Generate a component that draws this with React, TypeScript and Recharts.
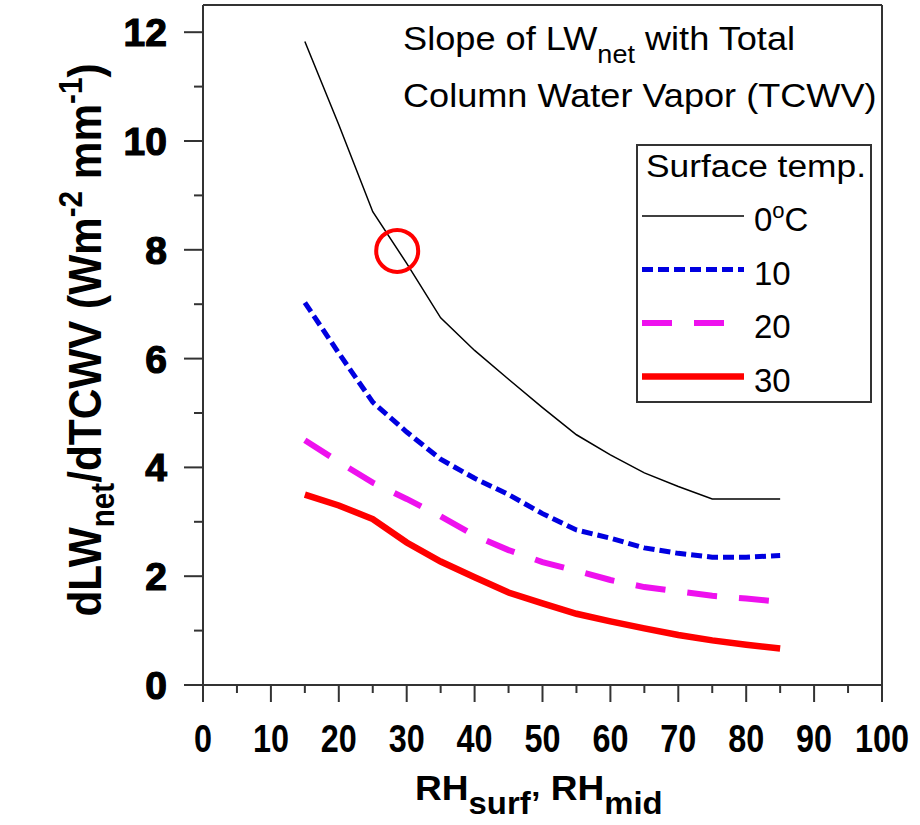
import React from 'react';
import { LineChart, Line, XAxis, YAxis, ReferenceLine, ReferenceDot, Legend } from 'recharts';

// relative humidity (x) and slope values per surface temperature
const RH = [15, 20, 25, 30, 35, 40, 45, 50, 55, 60, 65, 70, 75, 80, 85];
const SLOPE_0C = [11.83, 10.3, 8.7, 7.75, 6.75, 6.15, 5.62, 5.1, 4.6, 4.23, 3.9, 3.65, 3.42, 3.42, 3.42];
const SLOPE_10C = [7.03, 6.1, 5.2, 4.65, 4.15, 3.8, 3.5, 3.15, 2.85, 2.7, 2.52, 2.42, 2.35, 2.35, 2.38];
const SLOPE_20C = [4.5, 4.1, 3.72, 3.42, 3.1, 2.75, 2.48, 2.26, 2.1, 1.93, 1.8, 1.72, 1.64, 1.59, 1.53];
const SLOPE_30C = [3.5, 3.3, 3.05, 2.62, 2.27, 1.98, 1.7, 1.5, 1.31, 1.17, 1.04, 0.92, 0.82, 0.74, 0.67];

const X_TICKS = [0, 5, 10, 15, 20, 25, 30, 35, 40, 45, 50, 55, 60, 65, 70, 75, 80, 85, 90, 95, 100];
const Y_TICKS = [0, 1, 2, 3, 4, 5, 6, 7, 8, 9, 10, 11, 12];
const LEGEND_LABELS = ['0', '10', '20', '30'];

// highlighted point (red ring) on the 0°C curve
const MARK_RH = 28.6;
const MARK_SLOPE = 7.98;

const FONT = '"Liberation Sans", Arial, sans-serif';
const AXIS = '#333';

const data = RH.map((rh, i) => ({
  rh,
  t0: SLOPE_0C[i],
  t10: SLOPE_10C[i],
  t20: SLOPE_20C[i],
  t30: SLOPE_30C[i],
}));

const series = [
  { key: 't0', color: '#000000', width: 1.5, dash: undefined as string | undefined, legendEnd: 108 },
  { key: 't10', color: '#0000e0', width: 5, dash: '11 5', legendEnd: 108 },
  { key: 't20', color: '#ee11ee', width: 6, dash: '30 22', legendEnd: 92 },
  { key: 't30', color: '#ff0000', width: 6.5, dash: undefined, legendEnd: 108 },
];

const XTick = ({ x, y, payload }: any) => {
  const major = payload.value % 10 === 0;
  return (
    <g>
      <line x1={x} x2={x} y1={y} y2={y + (major ? 17 : 8)} stroke={AXIS} strokeWidth={2} />
      {major && (
        <text
          transform={`translate(${x},${y + 67}) scale(0.83,1)`}
          textAnchor="middle"
          fontFamily={FONT}
          fontWeight="bold"
          fontSize={39}
          fill="#000"
        >
          {payload.value}
        </text>
      )}
    </g>
  );
};

const YTick = ({ x, y, payload }: any) => {
  const major = payload.value % 2 === 0;
  return (
    <g>
      <line x1={x} x2={x - (major ? 19 : 9)} y1={y} y2={y} stroke={AXIS} strokeWidth={2} />
      {major && (
        <text
          x={x - 36}
          y={y + 14}
          textAnchor="end"
          fontFamily={FONT}
          fontWeight="bold"
          fontSize={39}
          fill="#000"
          stroke="#000"
          strokeWidth={1.2}
        >
          {payload.value}
        </text>
      )}
    </g>
  );
};

const LegendBox = () => (
  <svg width={236} height={259} style={{ display: 'block' }}>
    <rect x={1} y={1} width={234} height={257} fill="#fff" stroke={AXIS} strokeWidth={2} />
    <text x={10} y={33} fontFamily={FONT} fontSize={31} textLength={220} lengthAdjust="spacingAndGlyphs">
      Surface temp.
    </text>
    {series.map((s, i) => {
      const ly = 72 + 53.5 * i;
      return (
        <g key={s.key}>
          <line x1={6} x2={s.legendEnd} y1={ly} y2={ly} stroke={s.color} strokeWidth={s.width} strokeDasharray={s.dash} />
          <text x={118} y={ly + 15} fontFamily={FONT} fontSize={33}>
            {LEGEND_LABELS[i]}
            {i === 0 && (
              <>
                <tspan dy={-13} fontSize={22}>o</tspan>
                <tspan dy={13}>C</tspan>
              </>
            )}
          </text>
        </g>
      );
    })}
  </svg>
);

const App: React.FC = () => {
  return (
    <div style={{ position: 'absolute', left: 0, top: 0, width: 920, height: 825, background: '#fff' }}>
      <LineChart width={920} height={825} data={data} margin={{ top: 5, right: 38, bottom: 80, left: 143 }}>
        <XAxis
          type="number"
          dataKey="rh"
          domain={[0, 100]}
          ticks={X_TICKS}
          interval={0}
          tickSize={0}
          tickMargin={0}
          tickLine={false}
          tick={(p: any) => <XTick {...p} />}
          height={60}
          stroke={AXIS}
          strokeWidth={2}
        />
        <YAxis
          type="number"
          domain={[0, 12.5]}
          ticks={Y_TICKS}
          interval={0}
          tickSize={0}
          tickMargin={0}
          tickLine={false}
          tick={(p: any) => <YTick {...p} />}
          width={60}
          stroke={AXIS}
          strokeWidth={2}
        />
        <ReferenceLine x={100} stroke={AXIS} strokeWidth={2} />
        <ReferenceLine y={12.5} stroke={AXIS} strokeWidth={2} />
        {series.map((s) => (
          <Line
            key={s.key}
            type="linear"
            dataKey={s.key}
            stroke={s.color}
            strokeWidth={s.width}
            strokeDasharray={s.dash}
            dot={false}
            activeDot={false}
            isAnimationActive={false}
          />
        ))}
        <ReferenceDot x={MARK_RH} y={MARK_SLOPE} r={21} fill="none" stroke="#ff0000" strokeWidth={4} />
        <Legend
          layout="vertical"
          align="center"
          verticalAlign="middle"
          content={() => <LegendBox />}
          wrapperStyle={{ left: 636, top: 144, width: 236, height: 259 }}
        />
      </LineChart>

      <svg width={920} height={825} style={{ position: 'absolute', left: 0, top: 0, pointerEvents: 'none' }}>
        <g fontFamily={FONT} fill="#000">
          <text transform="translate(403,50) scale(1.08,1)" fontSize={33.5}>
            Slope of LW<tspan dy={13} fontSize={25}>net</tspan>
            <tspan dy={-13}> with Total</tspan>
          </text>
          <text transform="translate(403,107) scale(1.078,1)" fontSize={33.5}>
            Column Water Vapor (TCWV)
          </text>
          <text transform="translate(415,800) scale(1.06,1)" fontSize={35} fontWeight="bold">
            RH<tspan dy={14} fontSize={31}>surf’</tspan>
            <tspan dy={-14}> RH</tspan>
            <tspan dy={14} fontSize={31}>mid</tspan>
          </text>
          <text transform="translate(101,340) rotate(-90) scale(0.9,1)" textAnchor="middle" fontSize={47} fontWeight="bold">
            dLW<tspan dy={13} fontSize={33}>net</tspan>
            <tspan dy={-13}>/dTCWV (Wm</tspan>
            <tspan dy={-19} fontSize={33}>-2</tspan>
            <tspan dy={19}> mm</tspan>
            <tspan dy={-19} fontSize={33}>-1</tspan>
            <tspan dy={19}>)</tspan>
          </text>
        </g>
      </svg>
    </div>
  );
};

export default App;
